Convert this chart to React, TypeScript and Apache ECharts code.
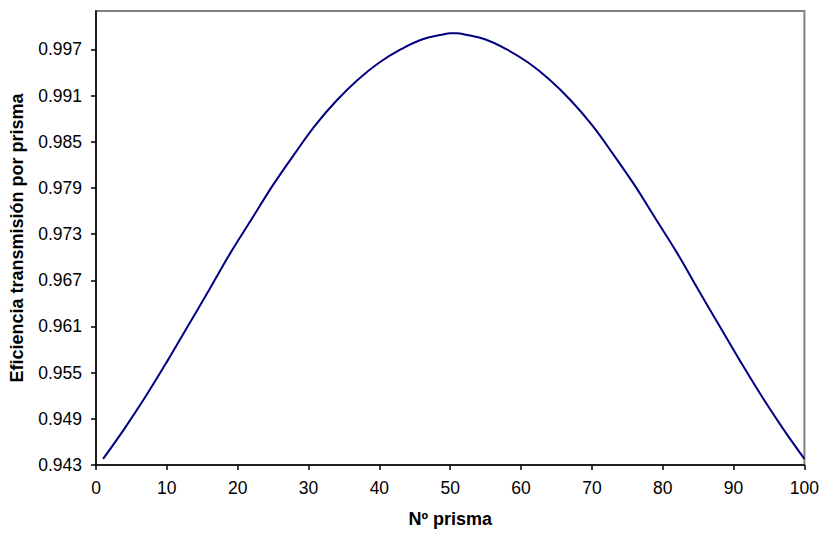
import React, { useEffect, useRef } from "react";
import * as echarts from "echarts";

const prismNumbers = [
  1, 4, 7, 10, 13, 16, 19, 22, 25, 28, 31, 34, 37, 40, 43, 46, 49, 50,
  51, 52, 55, 58, 61, 64, 67, 70, 73, 76, 79, 82, 85, 88, 91, 94, 97, 100,
];
const efficiency = [
  0.9438, 0.9477, 0.9519, 0.9564, 0.9611, 0.9658, 0.9706, 0.9750, 0.9794, 0.9834, 0.9872,
  0.9904, 0.9931, 0.9953, 0.9970, 0.9983, 0.99895, 0.9991,
  0.9991, 0.99895, 0.9983, 0.9970, 0.9953, 0.9931, 0.9904, 0.9872, 0.9834, 0.9794, 0.9750,
  0.9706, 0.9658, 0.9611, 0.9564, 0.9519, 0.9477, 0.9438,
];
const yTicks = [0.943, 0.949, 0.955, 0.961, 0.967, 0.973, 0.979, 0.985, 0.991, 0.997];
const xLabelTitle = "Nº prisma";
const yLabelTitle = "Eficiencia transmisión por prisma";

export default function App() {
  const ref = useRef<HTMLDivElement>(null);
  useEffect(() => {
    if (!ref.current) return;
    const chart = echarts.init(ref.current, null, { renderer: "svg" });
    const font = "Liberation Sans, Arial, sans-serif";
    chart.setOption({
      animation: false,
      backgroundColor: "#ffffff",
      grid: {
        left: 96,
        right: 16,
        top: 11,
        bottom: 67,
        show: true,
        borderColor: "#808080",
        borderWidth: 2,
        containLabel: false,
      },
      xAxis: {
        type: "value",
        min: 0,
        max: 100,
        interval: 10,
        name: xLabelTitle,
        nameLocation: "middle",
        nameGap: 45,
        nameTextStyle: { fontFamily: font, fontSize: 18, fontWeight: "bold", color: "#000" },
        axisLine: { show: true, onZero: false, lineStyle: { color: "#000", width: 1.5 } },
        axisTick: { show: true, inside: false, length: 5, lineStyle: { color: "#000", width: 1.5 } },
        axisLabel: { fontFamily: font, fontSize: 17.5, color: "#000", margin: 14 },
        splitLine: { show: false },
      },
      yAxis: {
        type: "value",
        min: 0.943,
        max: 1.002,
        name: yLabelTitle,
        nameLocation: "middle",
        nameGap: 70,
        nameTextStyle: { fontFamily: font, fontSize: 18, fontWeight: "bold", color: "#000" },
        axisLine: { show: true, lineStyle: { color: "#000", width: 1.5 } },
        axisTick: { show: true, inside: false, length: 5, customValues: yTicks, lineStyle: { color: "#000", width: 1.5 } },
        axisLabel: {
          fontFamily: font,
          fontSize: 17.5,
          color: "#000",
          margin: 14,
          customValues: yTicks,
          formatter: (v: number) => v.toFixed(3),
        },
        splitLine: { show: false },
      },
      series: [
        {
          type: "line",
          data: prismNumbers.map((x, i) => [x, efficiency[i]]),
          smooth: 0.4,
          showSymbol: false,
          lineStyle: { color: "#000080", width: 2 },
        },
      ],
    });
    return () => chart.dispose();
  }, []);
  return <div ref={ref} style={{ width: 822, height: 533, position: "absolute", left: 0, top: 0 }} />;
}
